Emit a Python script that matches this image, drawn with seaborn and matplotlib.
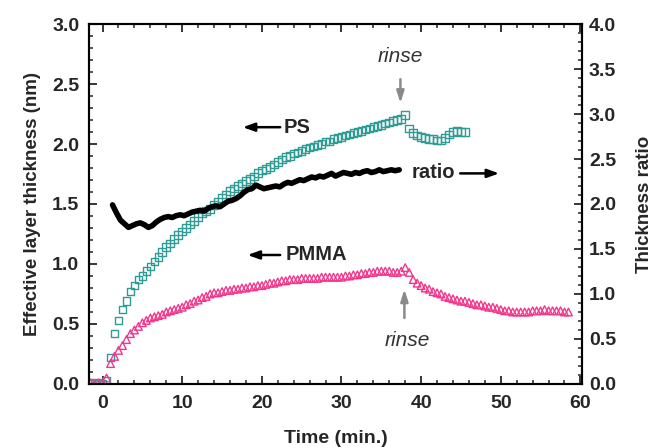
import numpy as np
import pandas as pd
import matplotlib
matplotlib.use("Agg")
import matplotlib.pyplot as plt
from matplotlib.ticker import MultipleLocator
import seaborn as sns

# ---------------- data ----------------
ps_time = [-1.5 + 0.5 * i for i in range(95)]
ps_thick = [0.01, 0.00, 0.01, 0.00, 0.03, 0.22, 0.42, 0.53, 0.62, 0.69,
            0.77, 0.82, 0.87, 0.90, 0.94, 0.98, 1.02, 1.06, 1.10, 1.14,
            1.17, 1.21, 1.24, 1.27, 1.30, 1.33, 1.36, 1.39, 1.42, 1.44,
            1.46, 1.49, 1.52, 1.55, 1.58, 1.61, 1.63, 1.65, 1.67, 1.69,
            1.71, 1.73, 1.76, 1.78, 1.79, 1.81, 1.83, 1.85, 1.87, 1.89,
            1.90, 1.92, 1.93, 1.94, 1.96, 1.97, 1.98, 1.99, 2.00, 2.02,
            2.02, 2.04, 2.05, 2.06, 2.07, 2.08, 2.09, 2.10, 2.11, 2.12,
            2.13, 2.14, 2.15, 2.16, 2.17, 2.18, 2.19, 2.20, 2.21, 2.24,
            2.13, 2.09, 2.07, 2.06, 2.05, 2.04, 2.04, 2.03, 2.03, 2.05,
            2.08, 2.10, 2.11, 2.10, 2.10]

pmma_time = [-1.5 + 0.5 * i for i in range(121)]
pmma_thick = [0.01, 0.00, 0.01, 0.01, 0.05, 0.17, 0.23, 0.28, 0.32, 0.37,
              0.42, 0.45, 0.48, 0.51, 0.53, 0.55, 0.56, 0.57, 0.58, 0.60,
              0.61, 0.62, 0.63, 0.64, 0.66, 0.67, 0.69, 0.70, 0.72, 0.73,
              0.75, 0.76, 0.76, 0.77, 0.78, 0.78, 0.79, 0.79, 0.80, 0.80,
              0.81, 0.81, 0.82, 0.82, 0.83, 0.84, 0.84, 0.85, 0.86, 0.86,
              0.87, 0.87, 0.87, 0.88, 0.88, 0.88, 0.88, 0.88, 0.89, 0.89,
              0.89, 0.89, 0.89, 0.89, 0.90, 0.90, 0.91, 0.91, 0.92, 0.92,
              0.93, 0.93, 0.94, 0.94, 0.94, 0.94, 0.93, 0.93, 0.94, 0.97,
              0.93, 0.87, 0.84, 0.82, 0.80, 0.79, 0.77, 0.76, 0.75, 0.73,
              0.72, 0.71, 0.70, 0.69, 0.69, 0.68, 0.67, 0.66, 0.66, 0.65,
              0.64, 0.64, 0.63, 0.62, 0.61, 0.61, 0.60, 0.60, 0.60, 0.60,
              0.60, 0.61, 0.61, 0.61, 0.62, 0.61, 0.61, 0.61, 0.61, 0.60,
              0.60]

ratio_time = [1.25 + 0.5 * i for i in range(73)]
ratio_val = [1.99, 1.90, 1.82, 1.78, 1.74, 1.76, 1.78, 1.79, 1.77, 1.74,
             1.76, 1.80, 1.83, 1.85, 1.86, 1.85, 1.87, 1.88, 1.87, 1.89,
             1.91, 1.92, 1.93, 1.92, 1.95, 1.97, 1.98, 1.97, 2.00, 2.03,
             2.04, 2.06, 2.09, 2.13, 2.16, 2.17, 2.21, 2.19, 2.17, 2.18,
             2.19, 2.20, 2.19, 2.22, 2.24, 2.23, 2.25, 2.27, 2.26, 2.28,
             2.30, 2.29, 2.31, 2.30, 2.32, 2.34, 2.31, 2.33, 2.35, 2.34,
             2.33, 2.35, 2.34, 2.36, 2.37, 2.35, 2.36, 2.38, 2.36, 2.37,
             2.38, 2.37, 2.38]

x_ticks = [0, 10, 20, 30, 40, 50, 60]
left_ticks = [0.0, 0.5, 1.0, 1.5, 2.0, 2.5, 3.0]
right_ticks = [0.0, 0.5, 1.0, 1.5, 2.0, 2.5, 3.0, 3.5, 4.0]

ps_df = pd.DataFrame({"t": ps_time, "v": ps_thick})
pmma_df = pd.DataFrame({"t": pmma_time, "v": pmma_thick})
ratio_df = pd.DataFrame({"t": ratio_time, "v": ratio_val})

# ---------------- style ----------------
sns.set_style("ticks")
plt.rcParams["font.family"] = ["Liberation Sans", "DejaVu Sans"]
plt.rcParams["font.weight"] = "bold"
plt.rcParams["axes.labelweight"] = "bold"

fig = plt.figure(figsize=(6.58, 4.48), dpi=100)
ax = fig.add_axes([0.1353, 0.1429, 0.7492, 0.8035])
ax2 = ax.twinx()

teal = "#2f9b95"
pink = "#f2368a"

sns.scatterplot(data=ps_df, x="t", y="v", ax=ax, marker="s", s=30,
                facecolor="none", edgecolor=teal, linewidth=1.0, zorder=3)
sns.scatterplot(data=pmma_df, x="t", y="v", ax=ax, marker="^", s=30,
                facecolor="none", edgecolor=pink, linewidth=1.0, zorder=3)
sns.lineplot(data=ratio_df, x="t", y="v", ax=ax2, color="black",
             linewidth=4.0, zorder=3)

ax.set_xlim(-1.7, 60.2)
ax.set_ylim(0, 3.0)
ax2.set_ylim(0, 4.0)

ax.set_xticks(x_ticks)
ax.set_yticks(left_ticks)
ax2.set_yticks(right_ticks)
ax.set_xticklabels([str(v) for v in x_ticks])
ax.set_yticklabels([f"{v:.1f}" for v in left_ticks])
ax2.set_yticklabels([f"{v:.1f}" for v in right_ticks])
ax.xaxis.set_minor_locator(MultipleLocator(2))
ax.yaxis.set_minor_locator(MultipleLocator(0.1))
ax2.yaxis.set_minor_locator(MultipleLocator(0.1))

ax.tick_params(axis="both", which="major", direction="in", length=6, width=1.3,
               labelsize=14, top=True, right=False)
ax.tick_params(axis="x", which="major", pad=8)
ax.tick_params(axis="y", which="major", pad=7)
ax.tick_params(axis="both", which="minor", direction="in", length=3, width=1.1,
               top=True, right=False)
ax2.tick_params(axis="y", which="major", direction="in", length=6, width=1.3,
                labelsize=14, pad=5)
ax2.tick_params(axis="y", which="minor", direction="in", length=3, width=1.1)
for a in (ax, ax2):
    for sp in a.spines.values():
        sp.set_linewidth(1.5)
        sp.set_color("black")
    for lab in a.get_xticklabels() + a.get_yticklabels():
        lab.set_fontweight("bold")

ax.set_xlabel("Time (min.)", fontsize=14, fontweight="bold", labelpad=13)
ax.set_ylabel("Effective layer thickness (nm)", fontsize=13.5, fontweight="bold", labelpad=8)
ax2.set_ylabel("Thickness ratio", fontsize=13.5, fontweight="bold", labelpad=14)

# ---------------- annotations ----------------
arrow_black = dict(arrowstyle="-|>,head_length=0.7,head_width=0.25", color="black",
                   lw=1.8, shrinkA=0, shrinkB=0)
ax.annotate("", xy=(17.6, 2.14), xytext=(22.3, 2.14), arrowprops=arrow_black)
ax.text(22.7, 2.14, "PS", fontsize=14.5, fontweight="bold", va="center", ha="left")
ax.annotate("", xy=(18.2, 1.075), xytext=(22.3, 1.075), arrowprops=arrow_black)
ax.text(23.0, 1.075, "PMMA", fontsize=14.5, fontweight="bold", va="center", ha="left")
ax.text(38.8, 1.76, "ratio", fontsize=14.5, fontweight="bold", va="center", ha="left")
ax.annotate("", xy=(49.8, 1.755), xytext=(44.9, 1.755), arrowprops=arrow_black)

arrow_gray = dict(arrowstyle="-|>,head_length=0.7,head_width=0.22", color="#8a8a8a",
                  lw=1.8, shrinkA=0, shrinkB=0)
ax.annotate("", xy=(37.4, 2.34), xytext=(37.4, 2.54), arrowprops=arrow_gray)
ax.text(37.4, 2.73, "rinse", fontsize=15, style="italic", fontweight="normal",
        color="#333333", ha="center", va="center")
ax.annotate("", xy=(37.9, 0.79), xytext=(37.9, 0.55), arrowprops=arrow_gray)
ax.text(38.3, 0.365, "rinse", fontsize=15, style="italic", fontweight="normal",
        color="#333333", ha="center", va="center")

fig.savefig("out.png", dpi=100)
